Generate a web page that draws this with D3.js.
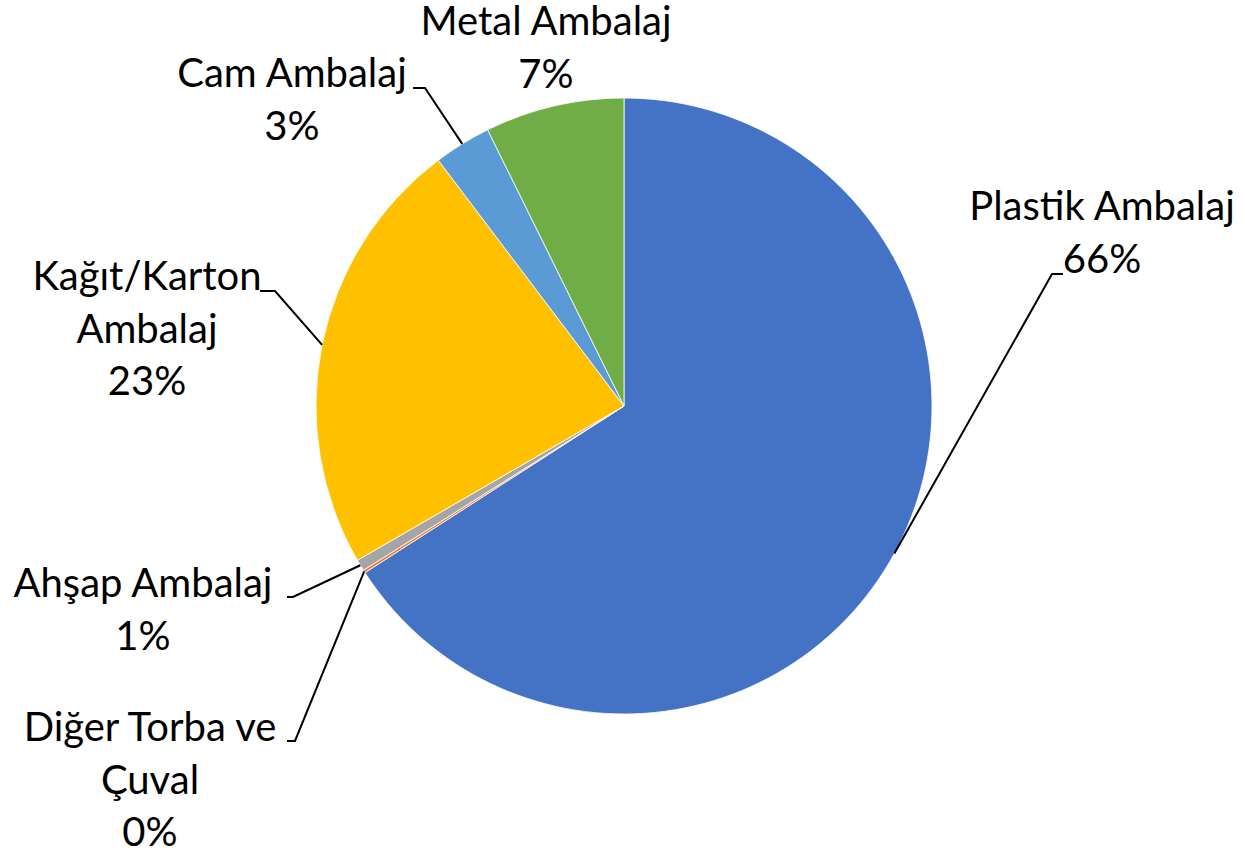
<!DOCTYPE html>
<html>
<head>
<meta charset="utf-8">
<script src="https://cdn.jsdelivr.net/npm/d3@7"></script>
<style>
  html, body { margin: 0; padding: 0; background: #fff; }
  svg { display: block; }
</style>
</head>
<body>
<svg id="chart" width="1245" height="850"></svg>
<script>
// ---- data ----
const categories = ["Plastik Ambalaj", "Diğer Torba ve Çuval", "Ahşap Ambalaj", "Kağıt/Karton Ambalaj", "Cam Ambalaj", "Metal Ambalaj"];
const values = [65.9, 0.15, 0.6, 23.05, 3.0, 7.3];
const percentLabels = ["66%", "0%", "1%", "23%", "3%", "7%"];
const labelLines = [["Plastik Ambalaj"], ["Diğer Torba ve", "Çuval"], ["Ahşap Ambalaj"], ["Kağıt/Karton", "Ambalaj"], ["Cam Ambalaj"], ["Metal Ambalaj"]];
const colors = ["#4472C4", "#ED7D31", "#A5A5A5", "#FFC000", "#5B9BD5", "#70AD47"];

// ---- layout (not data) ----
const cx = 624, cy = 406, R = 308;
const lineH = 52.5;
const labelLayout = [
  { x: 1102, y: 220, elbow: [1052, 274], end: [1063, 274] },
  { x: 150,  y: 741, elbow: [295, 741],  end: [287, 741] },
  { x: 143,  y: 597, elbow: [293, 597],  end: [287, 597] },
  { x: 147,  y: 290, elbow: [275, 291],  end: [260, 291] },
  { x: 292,  y: 87,  elbow: [425, 88],   end: [413, 88] },
  { x: 546,  y: 35,  elbow: null,        end: null }
];

const svg = d3.select("#chart");
const g = svg.append("g").attr("transform", `translate(${cx},${cy})`);

const pie = d3.pie().sort(null).value(d => d).startAngle(0).endAngle(2 * Math.PI);
const arcs = pie(values);
const arc = d3.arc().innerRadius(0).outerRadius(R);

g.selectAll("path.slice")
  .data(arcs)
  .join("path")
  .attr("class", "slice")
  .attr("d", arc)
  .attr("fill", (d, i) => colors[i])
  .attr("stroke", "#fff")
  .attr("stroke-width", 0.8);

// leader lines
arcs.forEach((d, i) => {
  const L = labelLayout[i];
  if (!L.elbow) return;
  const mid = (d.startAngle + d.endAngle) / 2;
  const sx = cx + R * Math.sin(mid);
  const sy = cy - R * Math.cos(mid);
  svg.append("polyline")
    .attr("points", `${sx},${sy} ${L.elbow[0]},${L.elbow[1]} ${L.end[0]},${L.end[1]}`)
    .attr("fill", "none")
    .attr("stroke", "#000")
    .attr("stroke-width", 2);
});

// labels
arcs.forEach((d, i) => {
  const L = labelLayout[i];
  const lines = labelLines[i].concat([percentLabels[i]]);
  const t = svg.append("text")
    .attr("text-anchor", "middle")
    .attr("font-family", "Lato, 'Noto Sans', sans-serif")
    .attr("font-size", 40)
    .attr("fill", "#000");
  lines.forEach((s, k) => {
    t.append("tspan").attr("x", L.x).attr("y", L.y + k * lineH).text(s);
  });
});
</script>
</body>
</html>
